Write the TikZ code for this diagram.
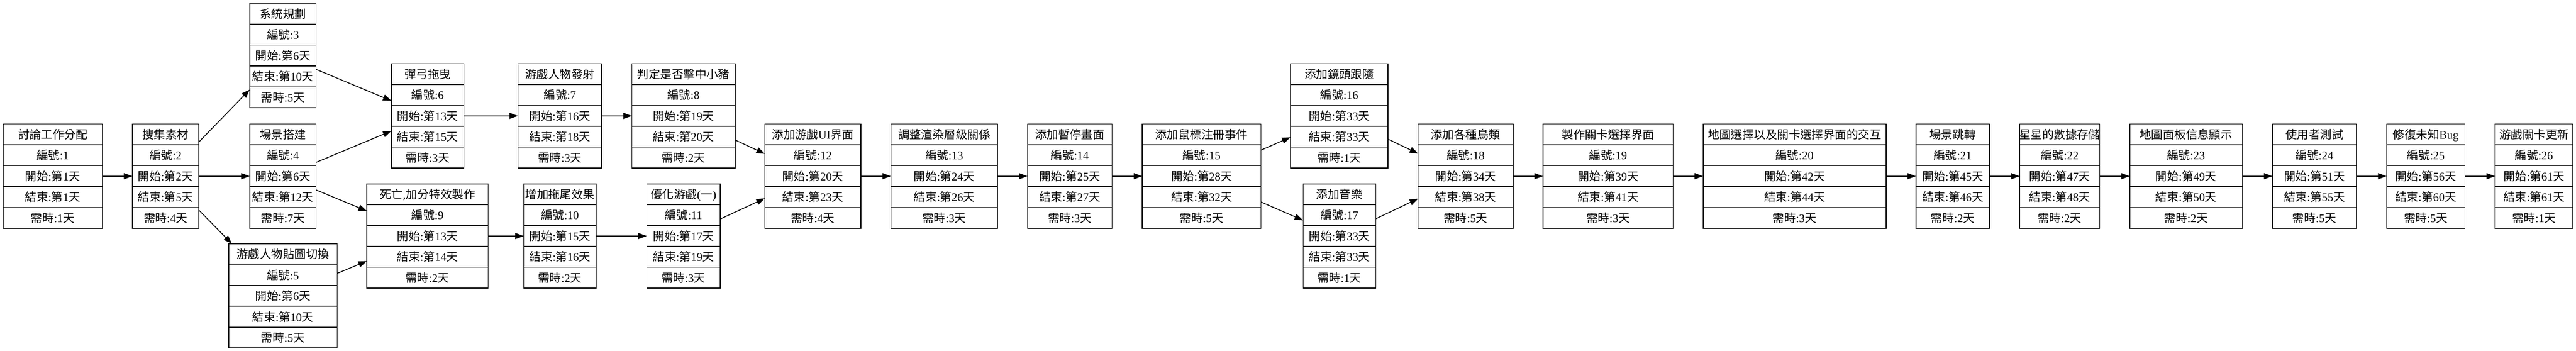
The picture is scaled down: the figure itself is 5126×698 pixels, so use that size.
\documentclass[tikz,border=0pt]{standalone}
\usepackage{fontspec}
\setmainfont{Liberation Serif}
\newfontfamily\cjk{Noto Sans CJK TC}
\usetikzlibrary{arrows.meta}
\newcommand\cj[1]{{\cjk #1}}
\tikzset{
  recbox/.style={draw, line width=1.6pt, minimum height=207.5pt, inner sep=0pt, outer sep=0pt},
  recline/.style={line width=1.6pt},
  rectext/.style={inner sep=0pt, text height=20pt, text depth=2.6pt, font=\fontsize{23}{27}\selectfont},
  edge/.style={line width=1.6pt, -{Triangle[length=17pt,width=12pt]}},
}
% name, cx, cy, width, title, id, start, end, duration
\newcommand\recnode[9]{%
  \node[recbox, minimum width=#4pt] (#1) at (#2,#3) {};
  \draw[recline] (#2-#4/2,#3-62.25) -- (#2+#4/2,#3-62.25);
  \draw[recline] (#2-#4/2,#3-20.75) -- (#2+#4/2,#3-20.75);
  \draw[recline] (#2-#4/2,#3+20.75) -- (#2+#4/2,#3+20.75);
  \draw[recline] (#2-#4/2,#3+62.25) -- (#2+#4/2,#3+62.25);
  \node[rectext] (#1a) at (#2,#3-83) {#5};
  \node[rectext] (#1b) at (#2,#3-41.5) {\cj{編號}:#6};
  \node[rectext] (#1c) at (#2,#3) {\cj{開始}:\cj{第}#7\cj{天}};
  \node[rectext] (#1d) at (#2,#3+41.5) {\cj{結束}:\cj{第}#8\cj{天}};
  \node[rectext] (#1e) at (#2,#3+83) {\cj{需時}:#9\cj{天}};
}
\begin{document}
\begin{tikzpicture}[x=1pt,y=-1pt]
\useasboundingbox (0,0) rectangle (5126,698);
\recnode{n1}{104.9}{350.5}{197.4}{\cj{討論工作分配}}{1}{1}{1}{1}
\recnode{n2}{329.5}{350.5}{132}{\cj{搜集素材}}{2}{2}{5}{4}
\recnode{n3}{563}{110.5}{132}{\cj{系統規劃}}{3}{6}{10}{5}
\recnode{n4}{563}{350.5}{132}{\cj{場景搭建}}{4}{6}{12}{7}
\recnode{n5}{563}{588.5}{216}{\cj{游戲人物貼圖切換}}{5}{6}{10}{5}
\recnode{n6}{851}{230.5}{144}{\cj{彈弓拖曳}}{6}{13}{15}{3}
\recnode{n7}{1114.2}{230.5}{167}{\cj{游戲人物發射}}{7}{16}{18}{3}
\recnode{n8}{1360}{230.5}{205.4}{\cj{判定是否擊中小豬}}{8}{19}{20}{2}
\recnode{n9}{850.8}{469.5}{241.5}{\cj{死亡},\cj{加分特效製作}}{9}{13}{14}{2}
\recnode{n10}{1114.3}{469.5}{144}{\cj{增加拖尾效果}}{10}{15}{16}{2}
\recnode{n11}{1360.2}{469.5}{146.3}{\cj{優化游戲}(\cj{一})}{11}{17}{19}{3}
\recnode{n12}{1617.5}{350.5}{191}{\cj{添加游戲}UI\cj{界面}}{12}{20}{23}{4}
\recnode{n13}{1879}{350.5}{212}{\cj{調整渲染層級關係}}{13}{24}{26}{3}
\recnode{n14}{2128.8}{350.5}{168.4}{\cj{添加暫停畫面}}{14}{25}{27}{3}
\recnode{n15}{2391}{350.5}{236}{\cj{添加鼠標注冊事件}}{15}{28}{32}{5}
\recnode{n16}{2665}{230.5}{194}{\cj{添加鏡頭跟隨}}{16}{33}{33}{1}
\recnode{n17}{2665.3}{469.5}{144.5}{\cj{添加音樂}}{17}{33}{33}{1}
\recnode{n18}{2916.5}{350.5}{189}{\cj{添加各種鳥類}}{18}{34}{38}{5}
\recnode{n19}{3200}{350.5}{259}{\cj{製作關卡選擇界面}}{19}{39}{41}{3}
\recnode{n20}{3571}{350.5}{364}{\cj{地圖選擇以及關卡選擇界面的交互}}{20}{42}{44}{3}
\recnode{n21}{3885.8}{350.5}{146.5}{\cj{場景跳轉}}{21}{45}{46}{2}
\recnode{n22}{4098.5}{350.5}{159}{\cj{星星的數據存儲}}{22}{47}{48}{2}
\recnode{n23}{4350}{350.5}{224}{\cj{地圖面板信息顯示}}{23}{49}{50}{2}
\recnode{n24}{4605.5}{350.5}{167}{\cj{使用者測試}}{24}{51}{55}{5}
\recnode{n25}{4827}{350.5}{156}{\cj{修復未知}Bug}{25}{56}{60}{5}
\recnode{n26}{5042.5}{350.5}{155}{\cj{游戲關卡更新}}{26}{61}{61}{1}
\draw[edge] (n1) -- (n2);
\draw[edge] (n2) -- (n3);
\draw[edge] (n2) -- (n4);
\draw[edge] (n2) -- (n5);
\draw[edge] (n3) -- (n6);
\draw[edge] (n4) -- (n6);
\draw[edge] (n4) -- (n9);
\draw[edge] (n5) -- (n9);
\draw[edge] (n6) -- (n7);
\draw[edge] (n7) -- (n8);
\draw[edge] (n9) -- (n10);
\draw[edge] (n10) -- (n11);
\draw[edge] (n8) -- (n12);
\draw[edge] (n11) -- (n12);
\draw[edge] (n12) -- (n13);
\draw[edge] (n13) -- (n14);
\draw[edge] (n14) -- (n15);
\draw[edge] (n15) -- (n16);
\draw[edge] (n15) -- (n17);
\draw[edge] (n16) -- (n18);
\draw[edge] (n17) -- (n18);
\draw[edge] (n18) -- (n19);
\draw[edge] (n19) -- (n20);
\draw[edge] (n20) -- (n21);
\draw[edge] (n21) -- (n22);
\draw[edge] (n22) -- (n23);
\draw[edge] (n23) -- (n24);
\draw[edge] (n24) -- (n25);
\draw[edge] (n25) -- (n26);
\end{tikzpicture}
\end{document}
